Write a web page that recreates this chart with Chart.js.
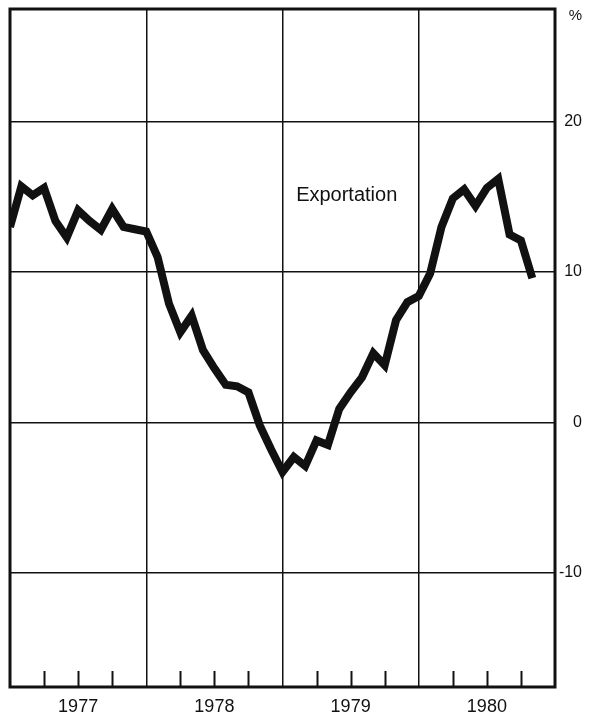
<!DOCTYPE html>
<html>
<head>
<meta charset="utf-8">
<script src="https://cdn.jsdelivr.net/npm/chart.js@4/dist/chart.umd.min.js"></script>
<style>
  html, body { margin: 0; padding: 0; background: #fff; }
  #wrap { width: 600px; height: 722px; }
</style>
</head>
<body>
<div id="wrap"><canvas id="chart"></canvas></div>
<script>
// monthly, Jan 1977 = 0
const yearLabels = ['1977', '1978', '1979', '1980'];
const exportValues = [
    13.0, 15.7, 15.1, 15.6, 13.4, 12.3, 14.1, 13.4, 12.8, 14.2, 13.0, 12.85,
    12.7, 11.0, 7.9, 6.0, 7.1, 4.8, 3.6, 2.5, 2.4, 2.0, -0.2, -1.8,
    -3.3, -2.3, -2.9, -1.2, -1.5, 0.9, 2.0, 3.0, 4.6, 3.8, 6.8, 8.0,
    8.4, 9.9, 13.0, 14.9, 15.5, 14.4, 15.6, 16.2, 12.5, 12.1, 9.6
];
const yTickValues = [-10, 0, 10, 20];
const seriesName = 'Exportation';

const FONT = '"Liberation Sans", Arial, sans-serif';
const INK = '#111';

// frame, inner quarter ticks, unit and series label
const decorations = {
    id: 'decorations',
    afterDraw(chart) {
        const { ctx, chartArea: a, scales: { x, y } } = chart;
        ctx.save();
        ctx.strokeStyle = INK;

        ctx.lineWidth = 2;
        for (let m = 3; m < 48; m += 3) {
            if (m % 12 === 0) continue;
            const px = Math.round(x.getPixelForValue(m)) + 0.5;
            ctx.beginPath();
            ctx.moveTo(px, a.bottom);
            ctx.lineTo(px, a.bottom - 16);
            ctx.stroke();
        }

        ctx.lineWidth = 3;
        ctx.strokeRect(a.left, a.top, a.right - a.left, a.bottom - a.top);

        ctx.fillStyle = INK;
        ctx.font = '15px ' + FONT;
        ctx.textAlign = 'right';
        ctx.textBaseline = 'middle';
        ctx.fillText('%', 582, a.top + 7);

        ctx.font = '20px ' + FONT;
        ctx.textAlign = 'left';
        ctx.fillText(seriesName, x.getPixelForValue(25.2), y.getPixelForValue(15.1));
        ctx.restore();
    }
};

new Chart(document.getElementById('chart'), {
    type: 'line',
    data: {
        datasets: [{
            label: seriesName,
            data: exportValues.map((v, i) => ({ x: i, y: v })),
            borderColor: INK,
            borderWidth: 8,
            borderJoinStyle: 'miter',
            borderCapStyle: 'butt',
            pointRadius: 0,
            tension: 0,
            fill: false
        }]
    },
    options: {
        responsive: true,
        maintainAspectRatio: false,
        animation: false,
        layout: { padding: { left: 10, top: 9, right: 18, bottom: 0 } },
        plugins: { legend: { display: false }, tooltip: { enabled: false } },
        scales: {
            x: {
                type: 'linear',
                min: 0,
                max: 48,
                afterBuildTicks: (scale) => {
                    const t = [];
                    for (let m = 0; m <= 48; m += 3) t.push({ value: m });
                    scale.ticks = t;
                },
                afterFit: (scale) => {
                    scale.height = 35;
                    scale.paddingLeft = 0;
                    scale.paddingRight = 0;
                },
                border: { display: false },
                grid: {
                    drawTicks: false,
                    lineWidth: 1.5,
                    color: (c) => (c.tick && c.tick.value % 12 === 0 && c.tick.value > 0 && c.tick.value < 48) ? INK : 'rgba(0,0,0,0)'
                },
                ticks: {
                    autoSkip: false,
                    maxRotation: 0,
                    padding: 9,
                    color: INK,
                    font: { family: FONT, size: 18 },
                    callback: (v) => (v % 12 === 6) ? yearLabels[Math.floor(v / 12)] : ''
                }
            },
            y: {
                position: 'right',
                min: -17.6,
                max: 27.5,
                afterBuildTicks: (scale) => { scale.ticks = yTickValues.map(v => ({ value: v })); },
                afterFit: (scale) => {
                    scale.width = 27;
                    scale.paddingTop = 0;
                    scale.paddingBottom = 0;
                },
                border: { display: false },
                grid: {
                    drawTicks: false,
                    lineWidth: 1.5,
                    color: INK
                },
                ticks: {
                    crossAlign: 'far',
                    padding: 6,
                    color: INK,
                    font: { family: FONT, size: 16 },
                    callback: (v) => String(v)
                }
            }
        }
    },
    plugins: [decorations]
});
</script>
</body>
</html>
